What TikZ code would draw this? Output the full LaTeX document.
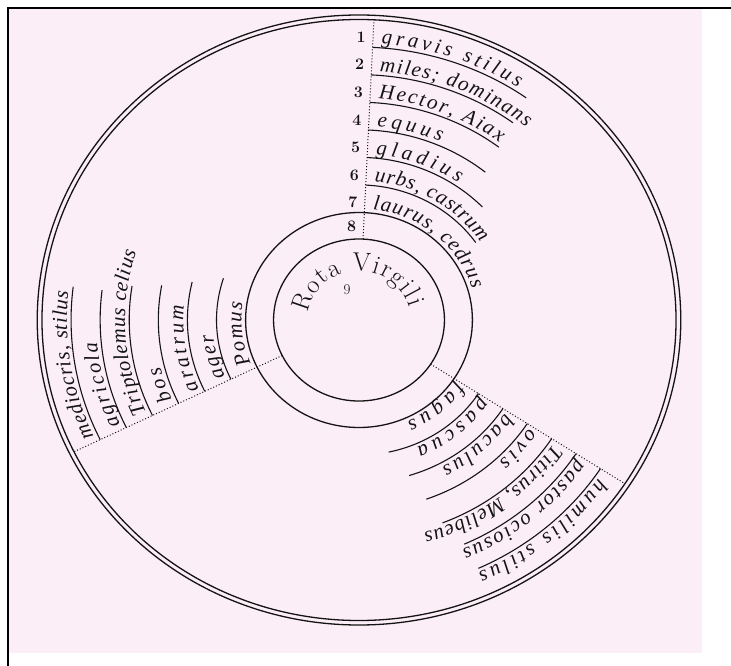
\documentclass[tikz,border=0pt]{standalone}
\usepackage{fontspec}
\newfontfamily\hand{Liberation Serif}
\usetikzlibrary{decorations.text}
\definecolor{paper}{RGB}{252,238,246}
\definecolor{ink}{RGB}{20,20,20}
\newcommand\wsx{1.055}
\tikzset{
  ring/.style={draw=ink, line width=1.3pt},
  band/.style={draw=ink, line width=1.1pt},
  divider/.style={draw=ink, line width=1pt, dash pattern=on 1pt off 2pt},
  num/.style={font=\bfseries\fontsize{16}{16}\selectfont, inner sep=0pt, text=ink},
}
\newcommand\wheelarc[3]{\draw[band] (#2:{\wsx*#1} and #1) arc[start angle=#2, end angle=#3, x radius={\wsx*#1}, y radius=#1];}
\newcommand\wheeltext[4]{\path[decorate, decoration={text along path, text align=fit to path, text={|\hand\itshape\fontsize{21}{21}\selectfont\color{ink}|#4}}] (#2:{\wsx*#1} and #1) arc[start angle=#2, end angle=#3, x radius={\wsx*#1}, y radius=#1];}
\newcommand\wheeldiv[1]{\draw[divider] (#1:{\wsx*81} and 81) -- (#1:{\wsx*300.5} and 300.5);}
\begin{document}
\begin{tikzpicture}[x=1pt,y=1pt]
\useasboundingbox (0,0) rectangle (731,-666);
\fill[paper] (8,-8) rectangle (702,-653);
\draw[line width=2pt] (8,-666) -- (8,-8) -- (731,-8);
\begin{scope}[shift={(359,-320)}]
  % circles
  \draw[ring] (0,0) ellipse [x radius={\wsx*305}, y radius=305];
  \draw[ring] (0,0) ellipse [x radius={\wsx*300.5}, y radius=300.5];
  \draw[ring] (0,0) ellipse [x radius={\wsx*107.5}, y radius=107.5];
  \draw[ring] (0,0) ellipse [x radius={\wsx*81}, y radius=81];
  % dividers
  \wheeldiv{87.3}
  \wheeldiv{206}
  \wheeldiv{-33}
  % top sector arcs
  \wheelarc{272.93}{87.3}{54.5}
  \wheelarc{245.36}{87.3}{53.5}
  \wheelarc{217.79}{87.3}{52.5}
  \wheelarc{190.21}{87.3}{51}
  \wheelarc{162.64}{87.3}{44}
  \wheelarc{135.07}{87.3}{35}
  % left sector arcs
  \wheelarc{272.93}{206}{173}
  \wheelarc{245.36}{206}{173}
  \wheelarc{217.79}{206}{171}
  \wheelarc{190.21}{206}{169.5}
  \wheelarc{162.64}{206}{166.5}
  \wheelarc{135.07}{206}{162}
  % right sector arcs
  \wheelarc{272.93}{-33}{-65.5}
  \wheelarc{245.36}{-33}{-66}
  \wheelarc{217.79}{-33}{-68.7}
  \wheelarc{190.21}{-33}{-70.4}
  \wheelarc{162.64}{-33}{-73}
  \wheelarc{135.07}{-33}{-78}
  % top sector texts
  \wheeltext{276.9}{85.6}{57}{gravis stilus}
  \wheeltext{249.4}{85.5}{50.5}{miles; dominans}
  \wheeltext{221.8}{85.2}{53}{Hector, Aiax}
  \wheeltext{194.2}{84.9}{66.5}{equus}
  \wheeltext{166.6}{84.5}{55.5}{gladius}
  \wheeltext{139.1}{84.0}{34}{urbs, castrum}
  \wheeltext{111.5}{83.2}{16}{laurus, cedrus}
  % left sector texts
  \wheeltext{276.9}{204.8}{174}{mediocris, stilus}
  \wheeltext{249.4}{204.8}{185}{agricola}
  \wheeltext{221.8}{204.6}{162}{Triptolemus celius}
  \wheeltext{194.2}{204.0}{194}{bos}
  \wheeltext{166.6}{204.5}{175}{aratrum}
  \wheeltext{139.1}{204.0}{186}{ager}
  \wheeltext{111.5}{203.0}{171}{Pomus}
  % right sector texts
  \wheeltext{276.9}{-35}{-66}{humilis stilus}
  \wheeltext{249.4}{-34}{-67}{pastor ociosus}
  \wheeltext{221.8}{-34}{-74}{Titirus, Melibeus}
  \wheeltext{194.2}{-34}{-47}{ovis}
  \wheeltext{166.6}{-34}{-62}{baculus}
  \wheeltext{139.1}{-34}{-67}{pascua}
  \wheeltext{111.5}{-34}{-66}{fagus}
  % numbers
  \node[num, anchor=base east] (n1) at ([xshift=-7]87.3:{\wsx*278} and 278) {1};
  \node[num, anchor=base east] (n2) at ([xshift=-7]87.3:{\wsx*250.4} and 250.4) {2};
  \node[num, anchor=base east] (n3) at ([xshift=-7]87.3:{\wsx*222.8} and 222.8) {3};
  \node[num, anchor=base east] (n4) at ([xshift=-7]87.3:{\wsx*195.2} and 195.2) {4};
  \node[num, anchor=base east] (n5) at ([xshift=-7]87.3:{\wsx*167.6} and 167.6) {5};
  \node[num, anchor=base east] (n6) at ([xshift=-7]87.3:{\wsx*140.1} and 140.1) {6};
  \node[num, anchor=base east] (n7) at ([xshift=-7]87.3:{\wsx*112.5} and 112.5) {7};
  \node[num, anchor=base east] (n8) at ([xshift=-7]87.3:{\wsx*89} and 89) {8};
  \node[font=\fontsize{15}{15}\selectfont, text=ink, inner sep=0pt] (n9) at (-12,30) {9};
  % title
  \path[decorate, decoration={text along path, text align=fit to path, text={|\rmfamily\fontsize{26}{26}\selectfont\color{ink}|Rota Virgili}}] (172:{\wsx*49} and 49) arc[start angle=172, end angle=14, x radius={\wsx*49}, y radius=49];
\end{scope}
\end{tikzpicture}
\end{document}
